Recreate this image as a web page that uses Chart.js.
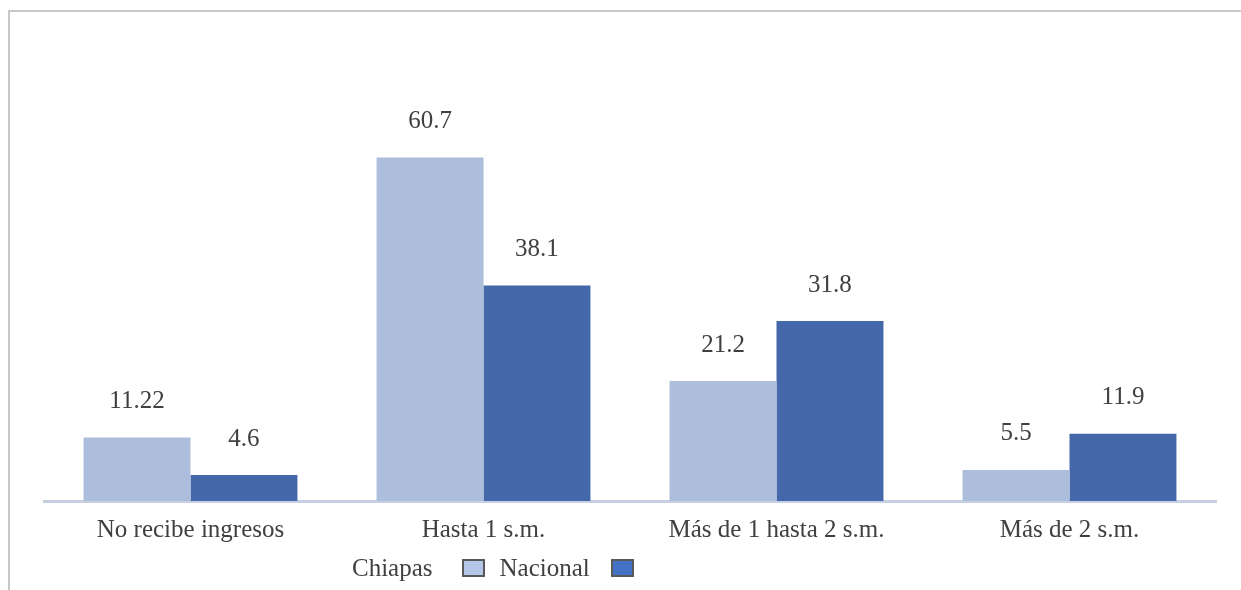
<!DOCTYPE html>
<html>
<head>
<meta charset="utf-8">
<script src="https://cdn.jsdelivr.net/npm/chart.js@4"></script>
<style>
  html, body { margin: 0; background: #fff; overflow: hidden; }
  #wrap { position: relative; width: 1241px; height: 590px; overflow: hidden; }
  #frame { position: absolute; left: 8px; top: 10px; width: 1240px; height: 590px;
           border-top: 2px solid #c8c8c8; border-left: 2px solid #c8c8c8; pointer-events: none; }
  #legend { position: absolute; left: 352px; top: 554px; font: 25px "Liberation Serif", serif;
            color: #404040; display: flex; align-items: center; white-space: nowrap; }
  .box { display: inline-block; width: 19px; height: 14px; border: 2px solid #595959; }
</style>
</head>
<body>
<div id="wrap">
  <canvas id="chart" width="1241" height="590"></canvas>
  <div id="frame"></div>
  <div id="legend">
    <span>Chiapas</span>
    <span class="box" style="background:#b4c7e7;margin-left:29px"></span>
    <span style="margin-left:15px">Nacional</span>
    <span class="box" style="background:#4472c4;margin-left:21px"></span>
  </div>
</div>
<script>
const categories = ['No recibe ingresos', 'Hasta 1 s.m.', 'Más de 1 hasta 2 s.m.', 'Más de 2 s.m.'];
const chiapas = [11.22, 60.7, 21.2, 5.5];
const nacional = [4.6, 38.1, 31.8, 11.9];

// etiquetas de valor encima de cada barra
const valueLabels = {
    id: 'valueLabels',
    afterDatasetsDraw(chart) {
        const ctx = chart.ctx;
        ctx.save();
        ctx.font = '25px "Liberation Serif", serif';
        ctx.fillStyle = '#404040';
        ctx.textAlign = 'center';
        ctx.textBaseline = 'middle';
        chart.data.datasets.forEach((ds, i) => {
            chart.getDatasetMeta(i).data.forEach((bar, j) => {
                ctx.fillText(String(ds.data[j]), bar.x, bar.y - 36);
            });
        });
        ctx.restore();
    }
};

new Chart(document.getElementById('chart'), {
    type: 'bar',
    data: {
        labels: categories,
        datasets: [
            { label: 'Chiapas', data: chiapas, backgroundColor: '#adbedd' },
            { label: 'Nacional', data: nacional, backgroundColor: '#4568aa' }
        ]
    },
    options: {
        responsive: false,
        animation: false,
        layout: { padding: { top: 105, left: 44, right: 25, bottom: 0 } },
        datasets: { bar: { categoryPercentage: 0.73, barPercentage: 1 } },
        plugins: { legend: { display: false }, tooltip: { enabled: false } },
        scales: {
            x: {
                grid: { display: false, drawTicks: false },
                border: { display: true, color: '#c6d0e2', width: 3 },
                ticks: { color: '#404040', padding: 14, font: { family: '"Liberation Serif", serif', size: 25 } },
                afterFit: (scale) => { scale.height = 89; }
            },
            y: { display: false, min: 0, max: 70 }
        }
    },
    plugins: [valueLabels]
});
</script>
</body>
</html>
